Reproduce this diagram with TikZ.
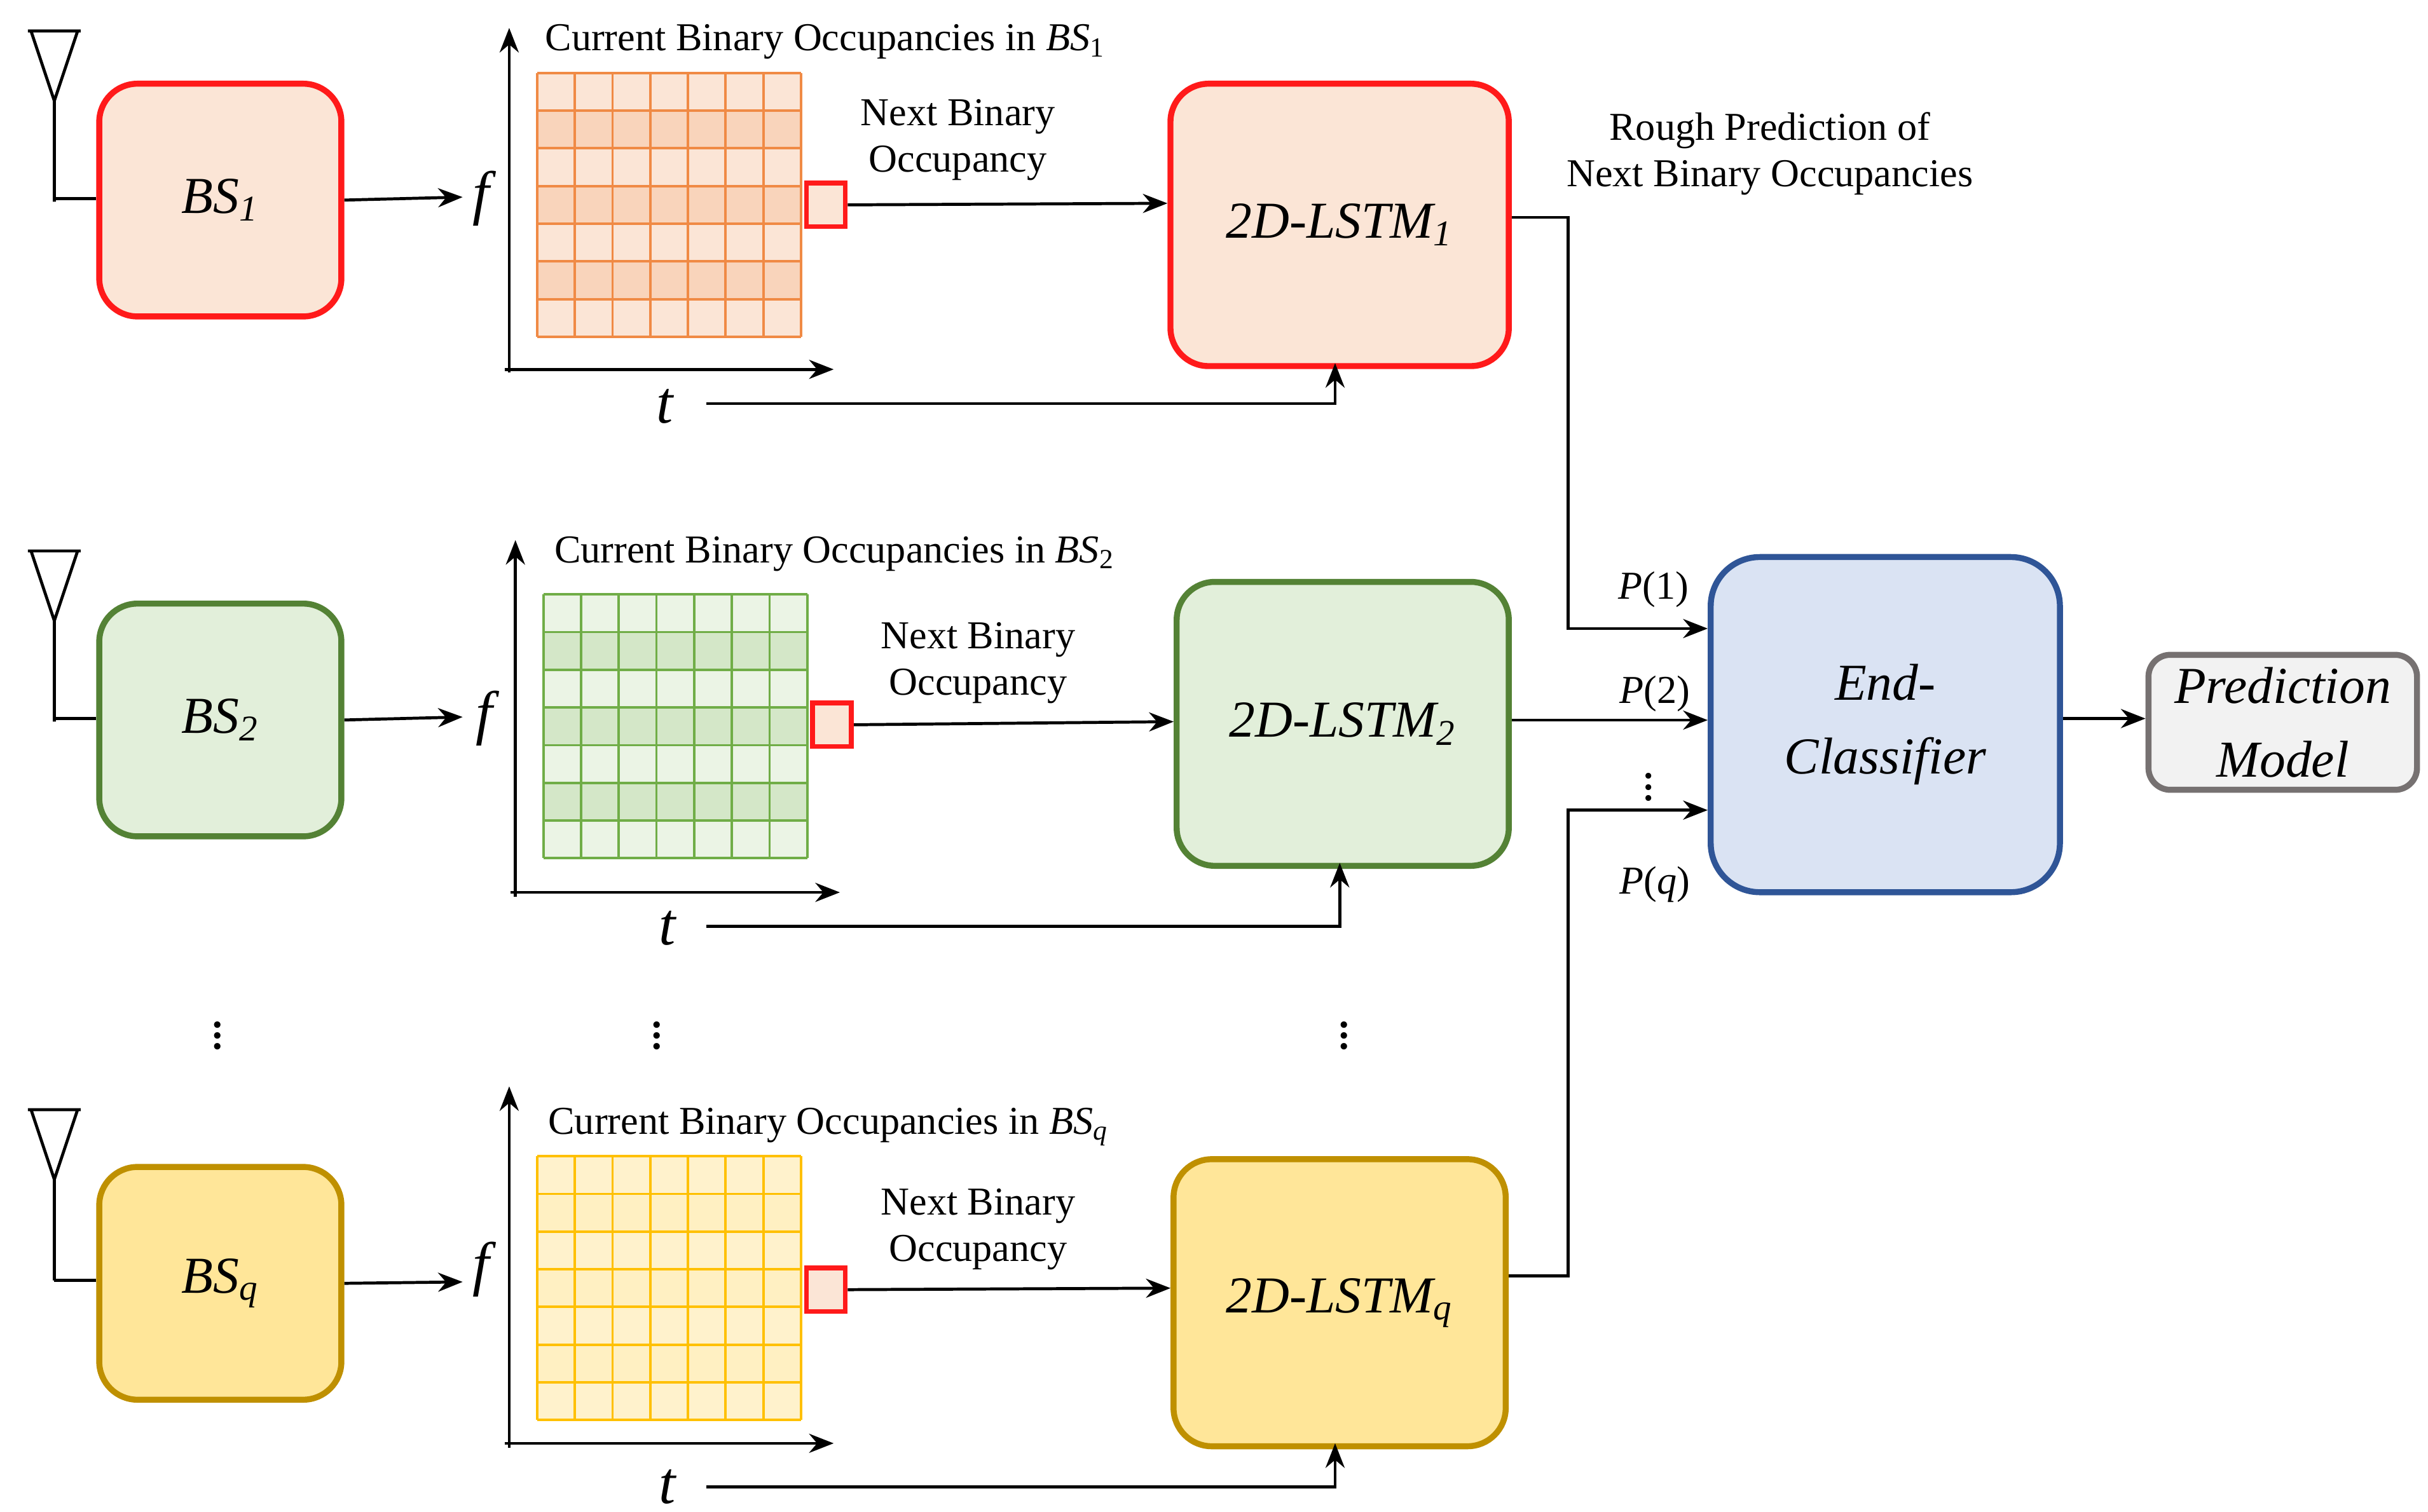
\documentclass[tikz,border=0pt]{standalone}
\usepackage{fontspec}
\setmainfont{Liberation Serif}
\usetikzlibrary{arrows.meta}
\definecolor{rS}{HTML}{FF1A1A}\definecolor{rF}{HTML}{FBE5D6}
\definecolor{gS}{HTML}{548235}\definecolor{gF}{HTML}{E2EFDA}
\definecolor{yS}{HTML}{BF9000}\definecolor{yF}{HTML}{FFE699}
\definecolor{bS}{HTML}{2F5597}\definecolor{bF}{HTML}{DAE3F3}
\definecolor{kS}{HTML}{767171}\definecolor{kF}{HTML}{F2F2F2}
\definecolor{oG}{HTML}{F4B183}\definecolor{oL}{HTML}{F08A45}
\definecolor{gG}{HTML}{E2EFDA}\definecolor{gL}{HTML}{70AD47}
\definecolor{yG}{HTML}{FFF2CC}\definecolor{yL}{HTML}{FFC000}
\tikzset{
 box/.style={draw, line width=2.2pt, rounded corners=14pt, inner sep=0pt},
 arr/.style={-{Stealth[length=9pt,width=7pt]}, line width=1.1pt},
 ln/.style={line width=1.1pt},
 lab/.style={font=\fontsize{19}{21}\selectfont\itshape},
 big/.style={font=\fontsize{22}{24}\selectfont\itshape},
 sm/.style={font=\fontsize{14.5}{17}\selectfont, align=center},
 sq/.style={draw=rS, line width=1.8pt, fill=rF, minimum width=0.5cm, minimum height=0.56cm, inner sep=0pt},
}
\newcommand{\antenna}[2]{\draw[ln] (#1,#2+65) -- (#1,#2) (#1-15,#2-45) -- (#1,#2) -- (#1+15,#2-45) (#1-17,#2-45) -- (#1+17,#2-45);}
\newcommand{\mygrid}[5]{% x0 y0 fill linecolor dark
 \fill[#3] (#1,#2) rectangle (#1+170,#2+170);
 \foreach \r in {1,3,5} \fill[#5] (#1,#2+\r*170/7) rectangle (#1+170,#2+\r*170/7+170/7);
 \foreach \i in {0,...,7}{\draw[#4,line width=0.9pt] (#1+\i*170/7,#2) -- (#1+\i*170/7,#2+170); \draw[#4,line width=0.9pt] (#1,#2+\i*170/7) -- (#1+170,#2+\i*170/7);}
}
\begin{document}
\begin{tikzpicture}[x=0.02cm,y=-0.02cm]
\useasboundingbox (0,0) rectangle (1564,974);
% ---------- row 1
\antenna{35}{65}
\draw[ln] (35,128) -- (62,128);
\node[box, draw=rS, fill=rF, minimum width=3.12cm, minimum height=3cm, anchor=north west] (bs1) at (62,52) {};
\node[lab] at (bs1.center) {BS\textsubscript{1}};
\draw[arr] (bs1.east) -- (298,127);
\node[big] at (310,128) {f};
\draw[arr] (328,240) -- (328,18);
\draw[arr] (325,238) -- (537,238);
\node[big] (t1) at (428,262) {t};
\mygrid{346}{47}{rF}{oL}{oG!55}
\node[sm, anchor=west] at (345,27) {Current Binary Occupancies in \textit{BS}\textsubscript{1}};
\node[sq] (s1) at (532,132) {};
\node[sm] at (617,90) {Next Binary\\Occupancy};
\node[box, draw=rS, fill=rF, minimum width=4.36cm, minimum height=3.64cm, anchor=north west] (l1) at (752,52) {};
\node[lab] at (l1.center) {2D-LSTM\textsubscript{1}};
\draw[arr] (s1.east) -- (l1.west |- 0,131);
\draw[arr] (455,260) -- (860,260) -- (860,234);
\node[sm] at (1140,99) {Rough Prediction of\\Next Binary Occupancies};
% ---------- row 2
\antenna{35}{400}
\draw[ln] (35,463) -- (62,463);
\node[box, draw=gS, fill=gF, minimum width=3.12cm, minimum height=3cm, anchor=north west] (bs2) at (62,387) {};
\node[lab] at (bs2.center) {BS\textsubscript{2}};
\draw[arr] (bs2.east) -- (298,462);
\node[big] at (312,463) {f};
\draw[arr] (332,578) -- (332,348);
\draw[arr] (329,575) -- (541,575);
\node[big] at (430,598) {t};
\mygrid{350}{383}{gF!70}{gL}{gL!30}
\node[sm, anchor=west] at (351,357) {Current Binary Occupancies in \textit{BS}\textsubscript{2}};
\node[sq] (s2) at (536,467) {};
\node[sm] at (630,427) {Next Binary\\Occupancy};
\node[box, draw=gS, fill=gF, minimum width=4.28cm, minimum height=3.66cm, anchor=north west] (l2) at (756,373) {};
\node[lab] at (l2.center) {2D-LSTM\textsubscript{2}};
\draw[arr] (s2.east) -- (l2.west |- 0,465);
\draw[arr] (455,597) -- (863,597) -- (863,556);
% ---------- row q
\antenna{35}{760}
\draw[ln] (35,825) -- (62,825);
\node[box, draw=yS, fill=yF, minimum width=3.12cm, minimum height=3cm, anchor=north west] (bsq) at (62,750) {};
\node[lab] at (bsq.center) {BS\textsubscript{\textit{q}}};
\draw[arr] (bsq.east) -- (298,826);
\node[big] at (310,818) {f};
\draw[arr] (328,933) -- (328,700);
\draw[arr] (325,930) -- (537,930);
\node[big] at (430,958) {t};
\mygrid{346}{745}{yG}{yL}{yF!60}
\node[sm, anchor=west] at (347,726) {Current Binary Occupancies in \textit{BS\textsubscript{q}}};
\node[sq] (sq) at (532,831) {};
\node[sm] at (630,792) {Next Binary\\Occupancy};
\node[box, draw=yS, fill=yF, minimum width=4.28cm, minimum height=3.7cm, anchor=north west] (lq) at (754,745) {};
\node[lab] at (lq.center) {2D-LSTM\textsubscript{\textit{q}}};
\draw[arr] (sq.east) -- (lq.west |- 0,830);
\draw[arr] (455,958) -- (860,958) -- (860,930);
% vdots
\node[font=\fontsize{20}{22}\selectfont, inner sep=0pt] at (140,662) {$\vdots$};
\node[font=\fontsize{20}{22}\selectfont, inner sep=0pt] at (423,662) {$\vdots$};
\node[font=\fontsize{20}{22}\selectfont, inner sep=0pt] at (866,662) {$\vdots$};
% end classifier
\node[box, draw=bS, fill=bF, minimum width=4.5cm, minimum height=4.32cm, anchor=north west, rounded corners=18pt] (ec) at (1100,357) {};
\node[lab, align=center, font=\fontsize{19}{27}\selectfont\itshape] at (ec.center) {End-\\Classifier};
\node[box, draw=kS, fill=kF, minimum width=3.46cm, minimum height=1.74cm, anchor=north west, rounded corners=8pt] (pm) at (1382,420) {};
\node[lab, align=center, font=\fontsize{19}{27}\selectfont\itshape] at (pm.center) {Prediction\\Model};
\draw[arr] (ec.east |- 0,463) -- (pm.west |- 0,463);
\draw[arr] (l1.east |- 0,140) -- (1010,140) -- (1010,405) -- (ec.west |- 0,405);
\draw[arr] (l2.east |- 0,464) -- (ec.west |- 0,464);
\draw[arr] (lq.east |- 0,822) -- (1010,822) -- (1010,522) -- (ec.west |- 0,522);
\node[sm] at (1065,380) {\textit{P}(1)};
\node[sm] at (1066,447) {\textit{P}(2)};
\node[font=\fontsize{18}{20}\selectfont, inner sep=0pt] at (1062,502) {$\vdots$};
\node[sm] at (1066,570) {\textit{P}(\textit{q})};
\end{tikzpicture}
\end{document}
